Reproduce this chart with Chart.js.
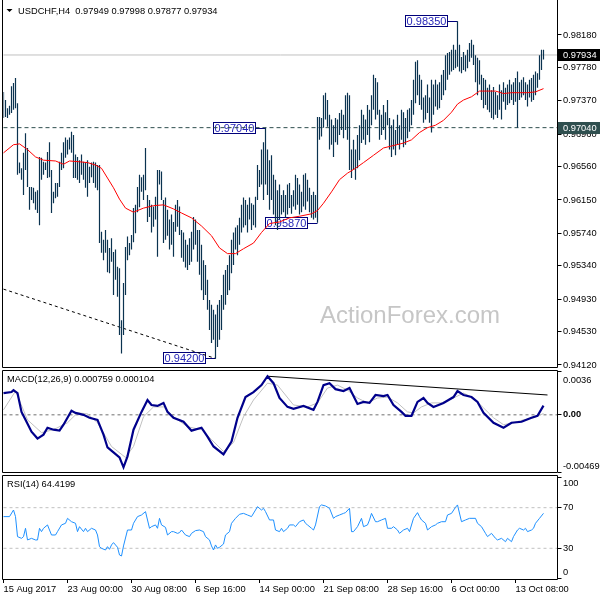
<!DOCTYPE html>
<html>
<head>
<meta charset="utf-8">
<title>USDCHF H4</title>
<script src="https://cdn.jsdelivr.net/npm/chart.js@4.4.1/dist/chart.umd.min.js"></script>
<style>
  html, body { margin: 0; padding: 0; background: #fff; }
  #wrap { position: relative; width: 600px; height: 600px; overflow: hidden; }
  #wrap canvas { position: absolute; left: 0; display: block; }
</style>
</head>
<body>
<div id="wrap">
  <canvas id="cMain" width="600" height="369" style="top:0"></canvas>
  <canvas id="cMacd" width="600" height="105" style="top:370px"></canvas>
  <canvas id="cRsi" width="600" height="125" style="top:475px"></canvas>
</div>
<script>
const FONT = "'Liberation Sans', Arial, sans-serif";
const BAR = '#0b3350';

// H4 bars, 271 of them, plus 7 empty slots on the right
const nSlots = 278;
const dateTickIdx = [0, 32, 64, 96, 128, 160, 192, 224, 256];
const dateTickText = ['15 Aug 2017', '23 Aug 00:00', '30 Aug 08:00', '6 Sep 16:00', '14 Sep 00:00',
  '21 Sep 08:00', '28 Sep 16:00', '6 Oct 00:00', '13 Oct 08:00'];

const high = [
  0.9748,0.9738,0.9728,0.9731,0.9755,0.9759,0.9765,0.9734,0.9661,0.9654,
  0.9673,0.9697,0.9679,0.9631,0.9631,0.9630,0.9625,0.9627,0.9668,0.9667,
  0.9662,0.9661,0.9674,0.9686,0.9652,0.9625,0.9636,0.9636,0.9662,0.9673,
  0.9686,0.9692,0.9689,0.9692,0.9699,0.9695,0.9671,0.9668,0.9664,0.9671,
  0.9662,0.9661,0.9664,0.9656,0.9661,0.9662,0.9661,0.9658,0.9658,0.9576,
  0.9566,0.9578,0.9566,0.9556,0.9568,0.9551,0.9554,0.9533,0.9531,0.9467,
  0.9513,0.9557,0.9570,0.9562,0.9572,0.9605,0.9609,0.9631,0.9646,0.9643,
  0.9646,0.9679,0.9621,0.9615,0.9609,0.9607,0.9619,0.9652,0.9652,0.9650,
  0.9615,0.9618,0.9603,0.9591,0.9597,0.9588,0.9609,0.9615,0.9607,0.9578,
  0.9575,0.9566,0.9560,0.9568,0.9576,0.9594,0.9591,0.9578,0.9578,0.9560,
  0.9541,0.9535,0.9517,0.9492,0.9486,0.9480,0.9474,0.9486,0.9492,0.9498,
  0.9523,0.9529,0.9535,0.9547,0.9566,0.9575,0.9581,0.9584,0.9593,0.9609,
  0.9618,0.9615,0.9609,0.9618,0.9611,0.9609,0.9619,0.9658,0.9652,0.9677,
  0.9686,0.9704,0.9677,0.9664,0.9670,0.9646,0.9640,0.9627,0.9634,0.9621,
  0.9627,0.9621,0.9634,0.9636,0.9621,0.9627,0.9646,0.9642,0.9634,0.9625,
  0.9646,0.9648,0.9640,0.9630,0.9621,0.9625,0.9621,0.9717,0.9717,0.9716,
  0.9744,0.9747,0.9738,0.9720,0.9714,0.9707,0.9716,0.9714,0.9722,0.9726,
  0.9720,0.9744,0.9747,0.9744,0.9677,0.9689,0.9677,0.9695,0.9707,0.9726,
  0.9720,0.9714,0.9732,0.9726,0.9744,0.9769,0.9765,0.9760,0.9726,0.9720,
  0.9732,0.9723,0.9738,0.9716,0.9707,0.9714,0.9701,0.9720,0.9707,0.9726,
  0.9723,0.9716,0.9726,0.9728,0.9738,0.9763,0.9785,0.9787,0.9769,0.9763,
  0.9741,0.9744,0.9757,0.9741,0.9763,0.9757,0.9763,0.9757,0.9760,0.9769,
  0.9775,0.9793,0.9796,0.9797,0.9800,0.9806,0.9800,0.9835,0.9806,0.9791,
  0.9797,0.9793,0.9800,0.9808,0.9812,0.9806,0.9793,0.9790,0.9787,0.9769,
  0.9765,0.9763,0.9753,0.9757,0.9750,0.9754,0.9748,0.9744,0.9757,0.9750,
  0.9760,0.9753,0.9757,0.9763,0.9757,0.9760,0.9765,0.9773,0.9760,0.9763,
  0.9766,0.9760,0.9757,0.9763,0.9765,0.9769,0.9773,0.9771,0.9793,0.9800,0.97998
];
const low = [
  0.9716,0.9717,0.9716,0.9720,0.9722,0.9726,0.9728,0.9646,0.9648,0.9640,
  0.9621,0.9652,0.9631,0.9603,0.9615,0.9611,0.9603,0.9599,0.9584,0.9640,
  0.9646,0.9652,0.9642,0.9643,0.9599,0.9611,0.9617,0.9619,0.9631,0.9652,
  0.9654,0.9667,0.9671,0.9677,0.9673,0.9642,0.9642,0.9640,0.9636,0.9646,
  0.9640,0.9630,0.9619,0.9636,0.9643,0.9636,0.9630,0.9627,0.9562,0.9550,
  0.9541,0.9550,0.9526,0.9525,0.9539,0.9498,0.9517,0.9496,0.9449,0.9426,
  0.9449,0.9498,0.9541,0.9547,0.9554,0.9563,0.9574,0.9600,0.9606,0.9625,
  0.9615,0.9627,0.9588,0.9594,0.9575,0.9582,0.9591,0.9545,0.9634,0.9615,
  0.9562,0.9566,0.9571,0.9554,0.9560,0.9545,0.9576,0.9582,0.9572,0.9544,
  0.9539,0.9532,0.9529,0.9535,0.9539,0.9554,0.9560,0.9539,0.9523,0.9504,
  0.9492,0.9498,0.9480,0.9455,0.9439,0.9443,0.9420,0.9434,0.9443,0.9455,
  0.9480,0.9486,0.9498,0.9504,0.9525,0.9535,0.9554,0.9547,0.9560,0.9575,
  0.9581,0.9584,0.9575,0.9591,0.9578,0.9584,0.9581,0.9615,0.9631,0.9634,
  0.9615,0.9634,0.9621,0.9603,0.9615,0.9597,0.9584,0.9578,0.9591,0.9597,
  0.9600,0.9593,0.9597,0.9605,0.9598,0.9607,0.9603,0.9609,0.9597,0.9600,
  0.9607,0.9603,0.9613,0.9600,0.9593,0.9591,0.9593,0.9587,0.9689,0.9693,
  0.9704,0.9714,0.9705,0.9677,0.9683,0.9668,0.9686,0.9683,0.9695,0.9701,
  0.9691,0.9701,0.9689,0.9652,0.9642,0.9652,0.9640,0.9654,0.9664,0.9685,
  0.9689,0.9683,0.9695,0.9686,0.9707,0.9726,0.9714,0.9720,0.9689,0.9695,
  0.9701,0.9689,0.9707,0.9677,0.9668,0.9677,0.9670,0.9683,0.9677,0.9689,
  0.9680,0.9683,0.9691,0.9699,0.9707,0.9720,0.9734,0.9744,0.9732,0.9726,
  0.9710,0.9714,0.9722,0.9710,0.9698,0.9720,0.9730,0.9726,0.9728,0.9738,
  0.9744,0.9750,0.9763,0.9769,0.9773,0.9775,0.9777,0.9779,0.9773,0.9771,
  0.9775,0.9773,0.9777,0.9785,0.9790,0.9781,0.9760,0.9744,0.9757,0.9738,
  0.9728,0.9732,0.9726,0.9723,0.9716,0.9714,0.9720,0.9716,0.9726,0.9714,
  0.9736,0.9726,0.9732,0.9734,0.9738,0.9732,0.9736,0.9704,0.9738,0.9741,
  0.9744,0.9738,0.9730,0.9741,0.9736,0.9738,0.9744,0.9753,0.9763,0.9775,0.97877
];
const lastOpen = 0.97949;
const lastClose = 0.97934;

const priceTicks = [0.94120, 0.94530, 0.94930, 0.95340, 0.95740, 0.96150, 0.96560, 0.96960, 0.97370, 0.97780, 0.98180];
const priceMin = 0.94095, priceMax = 0.98586;

// moving average (red), read at a few points
const maIdx = [0,5,8,12,16,20,26,30,33,38,42,46,49,52,55,58,61,65,70,75,80,85,89,94,99,104,108,112,116,120,
  125,129,133,138,143,148,154,157,160,164,168,172,176,180,185,190,195,200,204,208,212,216,220,224,227,230,
  234,238,242,246,250,254,258,262,266,270];
const maVal = [0.9673,0.9683,0.9684,0.9677,0.9668,0.9664,0.9663,0.9659,0.9663,0.9662,0.9661,0.9658,0.9654,
  0.9642,0.9630,0.9616,0.9605,0.9600,0.9605,0.9608,0.9609,0.9604,0.9599,0.9593,0.9583,0.9571,0.9556,0.9549,
  0.9549,0.9555,0.9562,0.9575,0.9586,0.9588,0.9593,0.9595,0.9598,0.9602,0.9611,0.9625,0.9640,0.9648,0.9654,
  0.9661,0.9670,0.9679,0.9682,0.9685,0.9689,0.9698,0.9704,0.9707,0.9713,0.9723,0.9733,0.9738,0.9742,0.9749,
  0.9749,0.9749,0.9746,0.9747,0.9747,0.9747,0.9748,0.9752];

const keyLevel = 0.97040;
const trendIdx = [0, 106];
const trendVal = [0.95053, 0.94200];
const noteIdx = [106, 131, 157, 227];
const noteVal = [0.94200, 0.97040, 0.95870, 0.98350];

// MACD(12,26,9)
const macdIdx = [0,4,5,7,9,11,14,17,20,22,25,28,30,34,36,40,43,47,50,52,55,58,60,62,65,69,72,74,77,80,
  82,85,90,94,99,102,105,110,114,117,121,125,129,132,135,138,142,145,150,155,157,160,163,166,170,173,177,
  180,183,186,190,192,195,199,201,204,207,210,212,215,220,225,227,230,234,237,240,245,250,254,259,264,267,270];
const macdVal = [0.00179,0.00187,0.00203,0.00179,0.00024,-0.00041,-0.00138,-0.00195,-0.00163,-0.00106,
  -0.00122,-0.00130,-0.00081,0.00033,0.00016,0,-0.00024,-0.00041,-0.00163,-0.00268,
  -0.00309,-0.00350,-0.00431,-0.00341,-0.00122,0.00024,0.00122,0.00081,0.00073,0.00098,
  0.00024,-0.00024,-0.00057,-0.00130,-0.00106,-0.00179,-0.00260,-0.00325,-0.00220,-0.00024,
  0.00146,0.00187,0.00244,0.00317,0.00260,0.00138,0.00065,0.00049,0.00073,0.00041,
  0.00106,0.00244,0.00260,0.00211,0.00195,0.00220,0.00089,0.00106,0.00098,0.00163,
  0.00154,0.00163,0.00081,0.00024,-0.00008,-0.00008,0.00106,0.00138,0.00098,0.00065,
  0.00098,0.00146,0.00195,0.00163,0.00146,0.00106,0.00016,-0.00065,-0.00106,-0.00065,
  -0.00057,-0.00024,-0.00008,0.000759];
const sigIdx = [0,6,12,19,25,32,37,42,47,54,61,65,70,75,80,85,92,99,104,110,115,120,125,132,137,139,
  145,152,157,162,167,172,177,182,187,192,197,202,205,209,214,219,225,230,235,240,245,250,255,260,265,270];
const sigVal = [0.00041,0.00195,-0.00041,-0.00146,-0.00122,-0.00065,0.00016,0.00008,-0.00065,-0.00260,
  -0.00350,-0.00260,-0.00016,0.00065,0.00065,-0.00016,-0.00098,-0.00122,-0.00203,-0.00301,
  -0.00228,-0.00016,0.00122,0.00260,0.00244,0.00203,0.00081,0.00065,0.00098,0.00220,
  0.00244,0.00203,0.00138,0.00098,0.00138,0.00146,0.00098,0.00024,0.00016,0.00065,
  0.00098,0.00098,0.00138,0.00179,0.00138,0.00057,-0.00024,-0.00081,-0.00065,-0.00041,
  -0.00024,0.000104];
const macdTrendIdx = [132, 272];
const macdTrendVal = [0.00317, 0.00163];
const macdTicks = [-0.004696, 0, 0.0036];
const macdTickText = ['-0.004696', '0.00', '0.0036'];

// RSI(14)
const rsiIdx = [0,3,5,6,7,9,10,11,12,14,16,17,18,19,20,22,23,24,26,27,29,31,32,34,36,37,38,40,41,42,44,46,47,
  48,49,51,52,53,54,55,57,58,59,60,62,64,65,67,69,71,73,74,76,77,78,79,81,82,84,85,87,88,89,91,93,94,96,98,
  100,101,103,104,105,106,107,108,110,111,113,114,116,118,120,122,124,126,127,129,130,131,133,135,136,138,
  139,140,142,143,145,146,148,150,151,152,154,155,156,158,159,161,163,165,166,168,170,171,173,174,175,177,
  179,180,182,183,184,186,187,189,191,192,194,195,197,198,200,202,203,205,207,208,209,211,212,214,216,217,
  219,221,222,224,226,227,229,231,233,236,237,239,241,242,244,246,247,249,251,252,254,255,257,258,260,261,
  262,264,265,266,268,270];
const rsiVal = [61.2,61.2,67.7,61.2,41.5,39.8,41.5,49.7,38.2,39.8,38.2,38.2,49.7,46.4,49.7,53.0,48.0,43.1,
  43.1,46.4,53.0,54.6,59.5,56.2,54.6,46.4,51.3,46.4,49.7,46.4,49.7,48.0,43.1,
  31.6,30.0,28.3,31.6,29.0,33.3,35.6,31.0,23.4,22.4,32.3,48.0,48.0,54.6,61.2,62.8,66.1,49.7,51.3,53.0,
  49.7,59.5,53.0,50.6,43.1,46.4,46.4,44.7,45.4,48.0,43.1,41.5,44.7,47.4,48.0,
  46.4,41.5,38.2,32.3,28.3,33.3,30.0,31.0,34.2,43.1,46.4,54.6,59.5,63.5,64.4,62.8,61.2,67.7,71.0,67.7,
  69.4,66.1,57.9,57.9,48.0,46.4,
  49.7,46.4,49.7,53.0,53.0,51.3,56.2,57.9,54.6,53.0,49.7,48.0,53.0,71.0,72.7,71.7,69.4,59.5,61.2,62.8,
  64.4,65.1,69.4,46.4,46.4,51.3,
  59.5,51.3,53.0,57.9,64.4,56.2,56.2,57.9,59.5,49.7,49.7,51.3,48.0,44.7,48.0,49.7,46.4,59.5,65.1,61.2,
  57.9,54.6,48.0,51.3,53.0,54.6,
  56.2,56.2,62.8,64.4,70.4,72.7,56.2,57.9,59.5,59.5,54.6,51.3,44.7,41.5,44.7,39.8,38.2,39.8,36.5,39.8,
  36.5,41.5,48.0,49.7,48.0,49.7,
  46.4,48.0,49.7,54.6,59.5,64.4199];
const rsiTicks = [0, 30, 70, 100];
const rsiLevels = [30, 70];

// ---- helpers
const xCats = Array.from({length: nSlots}, () => '');
dateTickIdx.forEach((k, j) => { xCats[k] = dateTickText[j]; });

function sparse(idx, vals) {
  const a = new Array(nSlots).fill(null);
  idx.forEach((k, j) => { a[k] = vals[j]; });
  return a;
}
function level(v) { return sparse([0, nSlots - 1], [v, v]); }
const bars = high.map((h, i) => [low[i], h]);

function line(data, color, width, dash, order) {
  return {
    type: 'line', data, borderColor: color, borderWidth: width, borderDash: dash || [],
    pointRadius: 0, pointHoverRadius: 0, spanGaps: true, tension: 0, fill: false, order: order || 0
  };
}

function yAxis(min, max, ticks, fmt, font) {
  return {
    type: 'linear', position: 'right', min, max,
    afterBuildTicks: ax => { ax.ticks = ticks.map(v => ({value: v})); },
    afterFit: ax => { ax.width = 42.5; ax.paddingTop = 0; ax.paddingBottom = 0; },
    grid: {display: true, drawOnChartArea: false, drawTicks: true, tickLength: 4, tickColor: '#000'},
    border: {display: false},
    ticks: {callback: fmt, color: '#000', padding: 1.5, font: font || {family: FONT, size: 9.3}}
  };
}
const hiddenX = () => ({type: 'category', display: false, offset: false, grid: {offset: false}});

const dateAxis = {
  type: 'category', position: 'bottom', offset: false,
  grid: {display: true, offset: false, drawOnChartArea: false, drawTicks: true, tickLength: 4, tickColor: '#000'},
  border: {display: false},
  ticks: {autoSkip: false, maxRotation: 0, minRotation: 0, align: 'start', padding: 1, color: '#000',
    font: {family: FONT, size: 9.3}},
  afterBuildTicks: ax => { ax.ticks = dateTickIdx.map(v => ({value: v})); },
  afterFit: ax => { ax.height = 21; ax.paddingLeft = 0; ax.paddingRight = 0; }
};

function baseOptions(pad, x, y, pluginOpts) {
  return {
    responsive: false, animation: false, devicePixelRatio: 1, events: [],
    layout: {padding: pad},
    plugins: Object.assign({legend: {display: false}, tooltip: {enabled: false}}, pluginOpts || {}),
    scales: {x, y}
  };
}

// ---- plugins
const frame = {
  id: 'frame',
  afterDraw(chart, args, o) {
    const {ctx, chartArea: a} = chart;
    const l = a.left - 1, r = a.right, t = o.top ? a.top - 0.5 : 0, b = a.bottom + 0.5;
    ctx.save();
    ctx.strokeStyle = '#000';
    ctx.lineWidth = 1;
    ctx.beginPath();
    ctx.moveTo(l, t); ctx.lineTo(l, b); ctx.lineTo(r, b); ctx.lineTo(r, t);
    if (o.top) ctx.lineTo(l, t);
    ctx.stroke();
    ctx.restore();
  }
};

// MT4 keeps the top and bottom scale labels inside the window
const edgeLabels = {
  id: 'edgeLabels',
  beforeDraw(chart, args, o) {
    if (!o.top && !o.bottom) return;
    const sc = chart.scales.y;
    const items = sc.getLabelItems();
    const last = items.length - 1;
    items.forEach((it, k) => {
      const tr = it.options && it.options.translation;
      if (!tr) return;
      if (k === 0) tr[1] -= o.bottom || 0;
      if (k === last) tr[1] += o.top || 0;
    });
  }
};

const panelText = {
  id: 'panelText',
  afterDraw(chart, args, o) {
    if (!o.text) return;
    const {ctx, chartArea: a} = chart;
    ctx.save();
    ctx.font = `9.3px ${FONT}`;
    ctx.fillStyle = '#000';
    ctx.textAlign = 'left';
    ctx.textBaseline = 'middle';
    ctx.fillText(o.text, a.left + 3.5, a.top + 8.5);
    ctx.restore();
  }
};

const mainOverlay = {
  id: 'mainOverlay',
  beforeDatasetsDraw(chart) {
    const {ctx, chartArea: a, scales: {x, y}} = chart;
    ctx.save();
    ctx.font = `24px ${FONT}`;
    ctx.fillStyle = '#c6c6c6';
    ctx.textAlign = 'left';
    ctx.textBaseline = 'alphabetic';
    ctx.fillText('ActionForex.com', a.left + 316.5, a.top + 321);

    // price notes at the swing points
    ctx.font = `11px ${FONT}`;
    ctx.textAlign = 'center';
    ctx.textBaseline = 'middle';
    ctx.lineWidth = 1;
    noteIdx.forEach((k, j) => {
      const bx = x.getPixelForValue(k);
      const py = Math.round(y.getPixelForValue(noteVal[j])) + 0.5;
      const right = bx - 10, left = right - 42;
      ctx.strokeStyle = '#00007a';
      ctx.strokeRect(left, py - 6, 42, 11);
      ctx.beginPath();
      ctx.moveTo(right, py); ctx.lineTo(bx, py);
      ctx.stroke();
      ctx.fillStyle = '#2626b8';
      ctx.fillText(noteVal[j].toFixed(5), (left + right) / 2, py);
    });
    ctx.restore();
  },
  afterDraw(chart) {
    const {ctx, chartArea: a, scales: {y}} = chart;
    ctx.save();
    ctx.font = `9.3px ${FONT}`;
    ctx.textBaseline = 'middle';
    ctx.textAlign = 'left';
    [[lastClose, '#000000'], [keyLevel, '#2f4f4f']].forEach(([p, bg]) => {
      const py = Math.round(y.getPixelForValue(p));
      ctx.fillStyle = bg;
      ctx.fillRect(a.right + 0.5, py - 6, 42, 12);
      ctx.fillStyle = '#fff';
      ctx.fillText(p.toFixed(5), a.right + 5.5, py + 0.5);
    });
    // symbol header
    ctx.fillStyle = '#000';
    ctx.beginPath();
    ctx.moveTo(a.left + 3, a.top + 7); ctx.lineTo(a.left + 9, a.top + 7); ctx.lineTo(a.left + 6, a.top + 10);
    ctx.closePath();
    ctx.fill();
    const n = high.length - 1;
    const head = `USDCHF,H4  ${lastOpen.toFixed(5)} ${high[n].toFixed(5)} ${low[n].toFixed(5)} ${lastClose.toFixed(5)}`;
    ctx.fillText(head, a.left + 14.5, a.top + 9);
    ctx.restore();
  }
};

// ---- main price window
new Chart(document.getElementById('cMain'), {
  type: 'bar',
  data: {
    labels: xCats,
    datasets: [
      line(sparse(maIdx, maVal), '#ff0000', 1, null, 0),
      {type: 'bar', data: bars, backgroundColor: BAR, borderColor: BAR, borderWidth: 0, barThickness: 1.2,
        inflateAmount: 0, order: 1},
      line(sparse(trendIdx, trendVal), '#000000', 1, [3, 3], 3),
      line(level(keyLevel), '#2f4f4f', 1, [4, 3], 4),
      line(level(lastClose), '#c0c0c0', 1, null, 5)
    ]
  },
  options: baseOptions({left: 3.5, right: 0, top: 2, bottom: 2}, hiddenX(),
    yAxis(priceMin, priceMax, priceTicks, v => v.toFixed(5)),
    {frame: {top: false}}),
  plugins: [mainOverlay, frame]
});

// ---- MACD window
new Chart(document.getElementById('cMacd'), {
  type: 'line',
  data: {
    labels: xCats,
    datasets: [
      line(sparse(macdIdx, macdVal), '#00008b', 2.2),
      line(sparse(sigIdx, sigVal), '#c0c0c0', 1),
      line(sparse(macdTrendIdx, macdTrendVal), '#000000', 1),
      line(level(0), '#707070', 1, [3, 3])
    ]
  },
  options: baseOptions({left: 3.5, right: 0, top: 1, bottom: 3}, hiddenX(),
    yAxis(macdTicks[0], macdTicks[2], macdTicks, (v, i) => macdTickText[i],
      c => ({family: FONT, size: 9.3, weight: c.tick && c.tick.value === 0 ? 'bold' : 'normal'})),
    {frame: {top: true}, edgeLabels: {top: 9, bottom: 6},
      panelText: {text: `MACD(12,26,9) ${macdVal[macdVal.length - 1].toFixed(6)} ${sigVal[sigVal.length - 1].toFixed(6)}`}}),
  plugins: [edgeLabels, panelText, frame]
});

// ---- RSI window
new Chart(document.getElementById('cRsi'), {
  type: 'line',
  data: {
    labels: xCats,
    datasets: [
      line(sparse(rsiIdx, rsiVal), '#1e90ff', 1),
      line(level(rsiLevels[0]), '#c0c0c0', 1, [3, 3]),
      line(level(rsiLevels[1]), '#c0c0c0', 1, [3, 3])
    ]
  },
  options: baseOptions({left: 3.5, right: 0, top: 1, bottom: 0}, dateAxis,
    yAxis(-0.25, 101.2, rsiTicks, v => String(v)),
    {frame: {top: true}, edgeLabels: {top: 6, bottom: 6},
      panelText: {text: `RSI(14) ${rsiVal[rsiVal.length - 1].toFixed(4)}`}}),
  plugins: [edgeLabels, panelText, frame]
});
</script>
</body>
</html>
